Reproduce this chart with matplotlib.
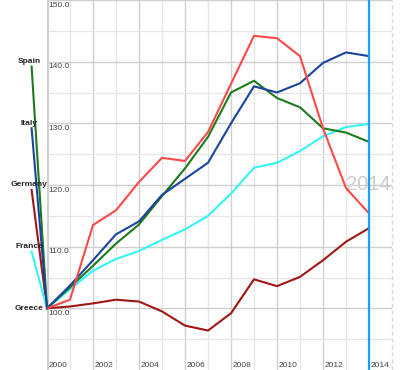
import matplotlib
matplotlib.use("Agg")
import matplotlib.pyplot as plt

plt.rcParams['font.family'] = ['Liberation Sans', 'DejaVu Sans']

years = list(range(2000, 2015))

# index values (2000 = 100)
greece = [100, 101.4, 113.5, 115.9, 120.5, 124.4, 123.9, 128.6, 136.4, 144.2,
          143.8, 140.9, 129.2, 119.5, 115.4]
spain = [100, 103.4, 106.9, 110.5, 113.6, 118.2, 122.7, 127.8, 135.0, 136.9,
         134.1, 132.6, 129.2, 128.5, 127.0]
italy = [100, 103.7, 107.8, 112.0, 114.1, 118.4, 121.0, 123.6, 130.0, 136.0,
         135.0, 136.5, 139.8, 141.5, 140.9]
france = [100, 103.1, 106.1, 108.0, 109.3, 111.1, 112.8, 115.0, 118.6, 122.8,
          123.6, 125.5, 127.9, 129.4, 129.9]
germany = [100, 100.3, 100.8, 101.4, 101.1, 99.5, 97.2, 96.4, 99.2, 104.7,
           103.6, 105.1, 107.8, 110.8, 113.0]

countries = ["Germany", "France", "Spain", "Italy", "Greece"]
label_values = [120, 110, 140, 130, 100]
colors = ["#a01515", "#33f5f5", "#1d7a1d", "#1a44a0", "#ff4848"]
series = [germany, france, spain, italy, greece]

current_year = 2014
y_ticks = [100, 110, 120, 130, 140, 150]
x_ticks = list(range(2000, 2015, 2))

fig = plt.figure(figsize=(4, 3.7), dpi=100)
ax = fig.add_axes([47 / 400, 0, 345 / 400, 1])
ax.set_xlim(2000, 2015)
ax.set_ylim(90, 150)
for s in ax.spines.values():
    s.set_visible(False)
ax.set_xticks([])
ax.set_yticks([])

# grid: light at minor steps, darker at labelled steps
for yr in range(2001, 2015):
    major = yr % 2 == 0
    ax.axvline(yr, color="#cfcfcf" if major else "#e6e6e6", lw=1.0, zorder=0)
for v in range(95, 151, 5):
    major = v % 10 == 0
    ax.axhline(v, color="#cfcfcf" if major else "#e6e6e6", lw=1.0, zorder=0)
ax.axvline(2000, color="#d0d0d0", lw=2.2, zorder=1)
ax.axvline(2015, color="#d8d8d8", lw=1.0, ls=(0, (3, 2)), clip_on=False, zorder=0)

for v in y_ticks:
    ax.text(2000.07, v - 0.25, f"{v:.1f}", fontsize=6, color="#444444",
            ha="left", va="top", zorder=2)
for yr in x_ticks:
    ax.text(yr + 0.08, 90.15, str(yr), fontsize=6, color="#444444",
            ha="left", va="bottom", zorder=2)

ax.text(2014.95, 120.1, str(current_year), fontsize=14.5, color="#cccccc",
        ha="right", va="center", zorder=1)

for name, lv, c, vals in zip(countries, label_values, colors, series):
    ax.plot(years, vals, color=c, lw=1.5, zorder=4)
    if lv != vals[0]:
        ax.plot([1999.33, 2000], [lv - 0.8, vals[0]], color=c, lw=1.5,
                clip_on=False, zorder=4)
    ax.text(1999.22, lv, name, fontsize=6, fontweight="bold", color="#222222",
            ha="center", va="center", clip_on=False, zorder=5)

ax.axvline(current_year, color="#1aa0ff", lw=1.6, zorder=6)

fig.savefig("out.png", dpi=100)
